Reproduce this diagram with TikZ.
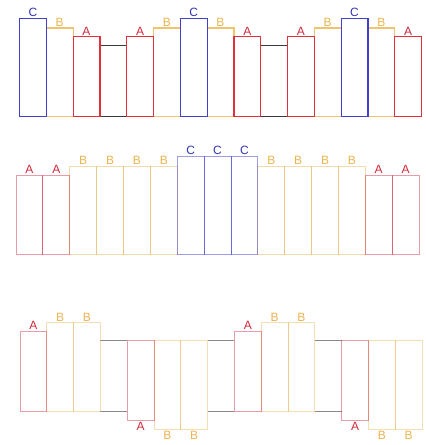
\documentclass[tikz,border=0pt]{standalone}
\usepackage{fontspec}
\setmainfont{Liberation Sans}
\definecolor{oneBlue}{HTML}{4040CC}
\definecolor{oneYel}{HTML}{F0C46C}
\definecolor{oneRed}{HTML}{E0303C}
\definecolor{oneBlk}{HTML}{3A3A3A}
\definecolor{twoRed}{RGB}{205,35,60}
\definecolor{twoYel}{RGB}{231,182,91}
\definecolor{twoBlue}{RGB}{40,40,205}
\definecolor{thrGray}{HTML}{8A8A8A}
\definecolor{labA}{HTML}{D02838}
\definecolor{labB}{HTML}{EAB450}
\definecolor{labC}{HTML}{3434B0}
\begin{document}
\begin{tikzpicture}[x=1pt,y=-1pt,
  bx/.style={rectangle,inner sep=0pt,outer sep=0pt,anchor=north west,minimum width=26.8pt},
  lab/.style={inner sep=1.4pt,font=\fontsize{12}{14}\selectfont},
  oneC/.style={bx,draw=oneBlue,line width=1.2pt,minimum height=98.2pt,label={[lab,text=labC]above:C}},
  oneB/.style={bx,draw=oneYel,line width=1.2pt,minimum height=88.7pt,label={[lab,text=labB]above:B}},
  oneA/.style={bx,draw=oneRed,line width=1.2pt,minimum height=80pt,label={[lab,text=labA]above:A}},
  oneK/.style={bx,minimum height=71.4pt},
  twoA/.style={bx,minimum width=26.87pt,draw=twoRed,draw opacity=0.45,line width=0.9pt,minimum height=79.3pt,label={[lab,text=labA]above:A}},
  twoB/.style={bx,minimum width=26.87pt,draw=twoYel,draw opacity=0.5,line width=0.9pt,minimum height=88pt,label={[lab,text=labB]above:B}},
  twoC/.style={bx,minimum width=26.87pt,draw=twoBlue,draw opacity=0.45,line width=0.9pt,minimum height=97.6pt,label={[lab,text=labC]above:C}},
  thrAu/.style={bx,draw=twoRed,draw opacity=0.45,line width=0.9pt,minimum height=79.7pt,label={[lab,text=labA]above:A}},
  thrBu/.style={bx,draw=twoYel,draw opacity=0.45,line width=0.9pt,minimum height=88.3pt,label={[lab,text=labB]above:B}},
  thrAd/.style={bx,draw=twoRed,draw opacity=0.45,line width=0.9pt,minimum height=79.7pt,label={[lab,inner sep=2.3pt,text=labA]below:A}},
  thrBd/.style={bx,draw=twoYel,draw opacity=0.45,line width=0.9pt,minimum height=88.7pt,label={[lab,inner sep=2.3pt,text=labB]below:B}},
  thrK/.style={bx,minimum height=70.7pt},
]
\useasboundingbox (0,0) rectangle (426,445);

% ---------- row 1 ----------
\foreach \i in {3,9} {
  \node[oneK] (r1n\i) at ({19.5+26.8*\i},45.3) {};
  \draw[oneBlk,line width=1.2pt] (r1n\i.north west) -- (r1n\i.north east)
        (r1n\i.south west) -- (r1n\i.south east);
}
\foreach \i in {1,5,7,11,13} \node[oneB] (r1n\i) at ({19.5+26.8*\i},28) {};
\foreach \i in {2,4,8,10,14} \node[oneA] (r1n\i) at ({19.5+26.8*\i},36.7) {};
\foreach \i in {0,6,12} \node[oneC] (r1n\i) at ({19.5+26.8*\i},18.5) {};

% ---------- row 2 ----------
\foreach \i in {2,3,4,5,9,10,11,12} \node[twoB] (r2n\i) at ({16+26.87*\i},166.3) {};
\foreach \i in {0,1,13,14} \node[twoA] (r2n\i) at ({16+26.87*\i},175) {};
\foreach \i in {6,7,8} \node[twoC] (r2n\i) at ({16+26.87*\i},156.7) {};

% ---------- row 3 ----------
\foreach \i in {3,7,11} {
  \node[thrK] (r3n\i) at ({20+26.8*\i},340.3) {};
  \draw[thrGray,line width=0.9pt] (r3n\i.north west) -- (r3n\i.north east)
        (r3n\i.south west) -- (r3n\i.south east);
}
\foreach \i in {1,2,9,10} \node[thrBu] (r3n\i) at ({20+26.8*\i},322.7) {};
\foreach \i in {5,6,13,14} \node[thrBd] (r3n\i) at ({20+26.8*\i},340.3) {};
\foreach \i in {0,8} \node[thrAu] (r3n\i) at ({20+26.8*\i},331.3) {};
\foreach \i in {4,12} \node[thrAd] (r3n\i) at ({20+26.8*\i},340.3) {};
\end{tikzpicture}
\end{document}
